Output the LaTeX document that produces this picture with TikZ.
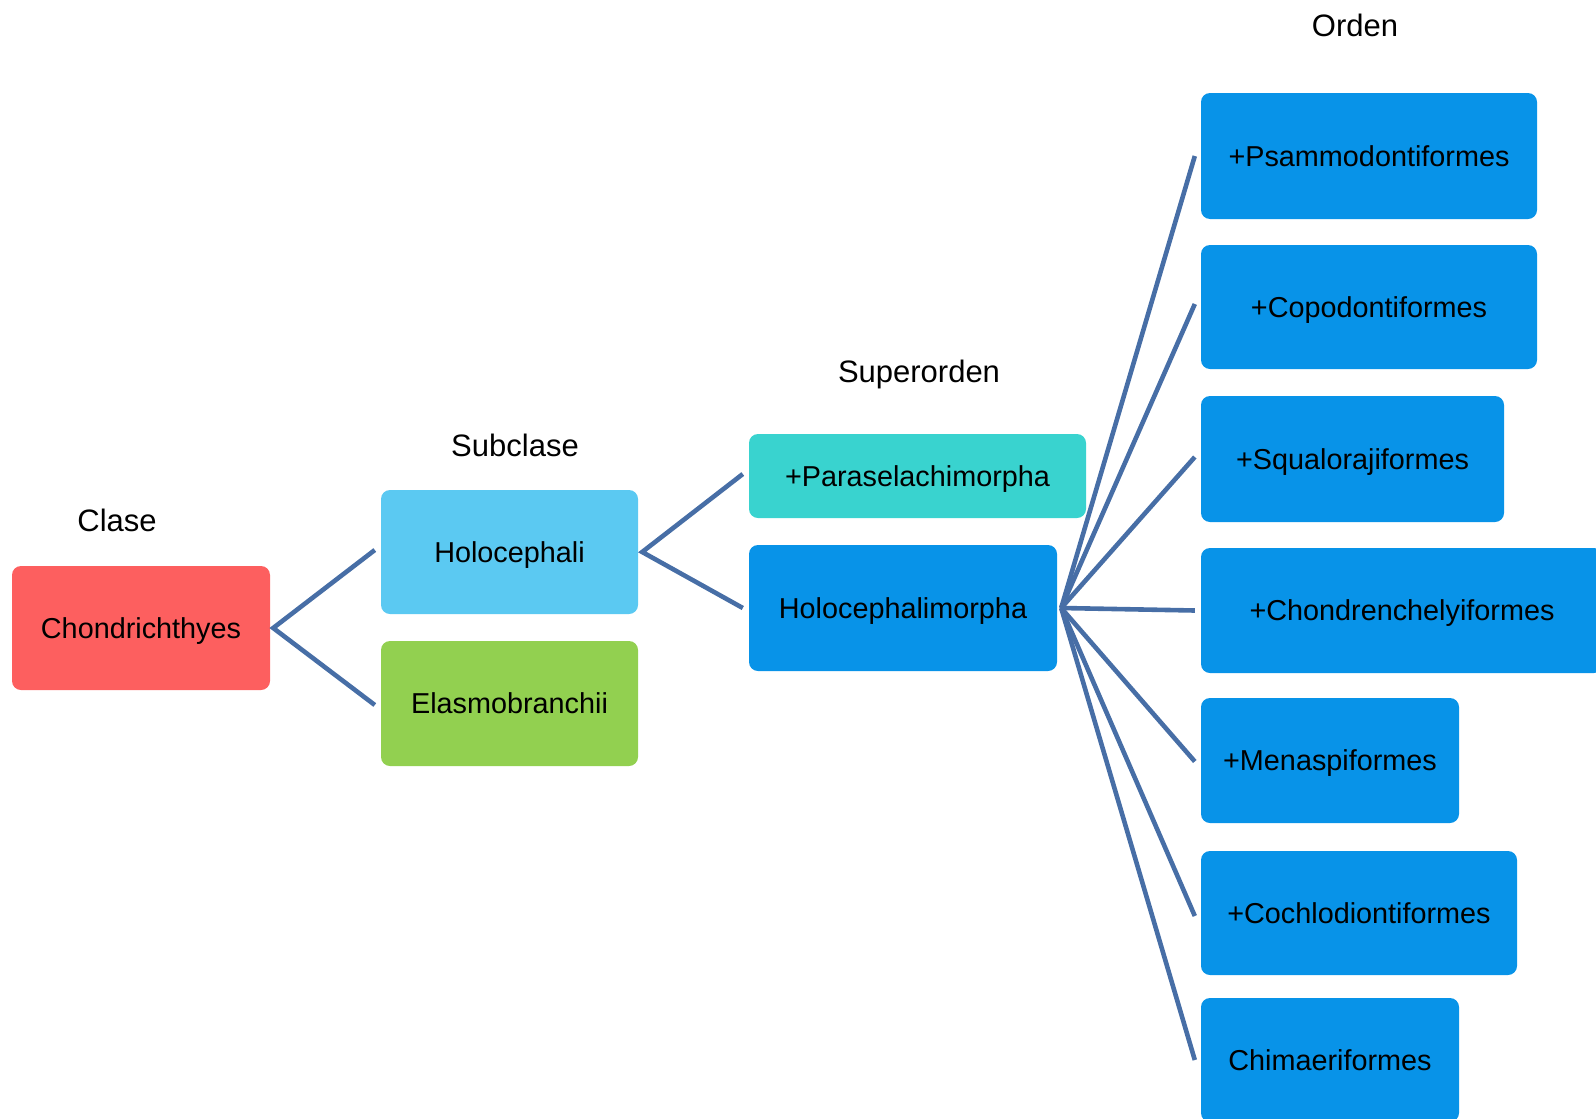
\documentclass[tikz,border=0pt]{standalone}
\usepackage{fontspec}
\setmainfont{Liberation Sans}
\begin{document}
\begin{tikzpicture}[x=1pt,y=-1pt,
  taxon/.style={rounded corners=9pt, inner sep=0pt, text=black,
    text height=20.6pt, text depth=0pt,
    font=\fontsize{28.8}{34}\selectfont},
  rank/.style={inner sep=0pt, font=\fontsize{31}{36}\selectfont},
  link/.style={draw=linkblue, line width=4.6pt},
]
\definecolor{clsred}{HTML}{FD5F5F}
\definecolor{subblue}{HTML}{5BC9F2}
\definecolor{subgreen}{HTML}{92D050}
\definecolor{supteal}{HTML}{39D3CF}
\definecolor{ordblue}{HTML}{0893E8}
\definecolor{linkblue}{HTML}{476EA6}

\useasboundingbox (0,0) rectangle (1596,1119);

% rank headings
\node[rank] (hClase) at (117,520) {Clase};
\node[rank] (hSub)   at (515,445) {Subclase};
\node[rank] (hSup)   at (919,374) {Superorden};
\node[rank] (hOrd)   at (1355,25) {Orden};

% class
\node[taxon, fill=clsred, minimum width=258, minimum height=124] (chond) at (141,628) {Chondrichthyes};

% subclasses
\node[taxon, fill=subblue,  minimum width=257, minimum height=124] (holo) at (509.5,552) {Holocephali};
\node[taxon, fill=subgreen, minimum width=257, minimum height=125] (elasmo) at (509.5,703.5) {Elasmobranchii};

% superorders
\node[taxon, fill=supteal, minimum width=337, minimum height=84]  (parasel) at (917.5,476) {+Paraselachimorpha};
\node[taxon, fill=ordblue, minimum width=308, minimum height=126] (holomor) at (903,608) {Holocephalimorpha};

% orders
\node[taxon, fill=ordblue, minimum width=336, minimum height=126] (psammo) at (1369,156) {+Psammodontiformes};
\node[taxon, fill=ordblue, minimum width=336, minimum height=124] (copo)   at (1369,307) {+Copodontiformes};
\node[taxon, fill=ordblue, minimum width=303, minimum height=126] (squalo) at (1352.5,459) {+Squalorajiformes};
\node[taxon, fill=ordblue, minimum width=402, minimum height=125] (chondren) at (1402,610.5) {+Chondrenchelyiformes};
\node[taxon, fill=ordblue, minimum width=258, minimum height=125] (menasp) at (1330,760.5) {+Menaspiformes};
\node[taxon, fill=ordblue, minimum width=316, minimum height=124] (cochlo) at (1359,913) {+Cochlodiontiformes};
\node[taxon, fill=ordblue, minimum width=258, minimum height=124] (chimae) at (1330,1060) {Chimaeriformes};

% connectors
\coordinate (jA) at ([xshift=3pt]chond.east);
\coordinate (jB) at ([xshift=4pt]holo.east);
\coordinate (jC) at ([xshift=4pt]holomor.east);

\draw[link] ([xshift=-6pt,yshift=2pt]holo.west) -- (jA) -- ([xshift=-6pt,yshift=-1.5pt]elasmo.west);
\draw[link] ([xshift=-6pt,yshift=2pt]parasel.west) -- (jB) -- ([xshift=-6pt]holomor.west);

\draw[link] (jC) -- ([xshift=-6pt]psammo.west);
\draw[link] (jC) -- ([xshift=-6pt,yshift=3pt]copo.west);
\draw[link] (jC) -- ([xshift=-6pt,yshift=2pt]squalo.west);
\draw[link] (jC) -- ([xshift=-6pt]chondren.west);
\draw[link] (jC) -- ([xshift=-6pt,yshift=-1pt]menasp.west);
\draw[link] (jC) -- ([xshift=-6pt,yshift=-3pt]cochlo.west);
\draw[link] (jC) -- ([xshift=-6pt]chimae.west);
\end{tikzpicture}
\end{document}
